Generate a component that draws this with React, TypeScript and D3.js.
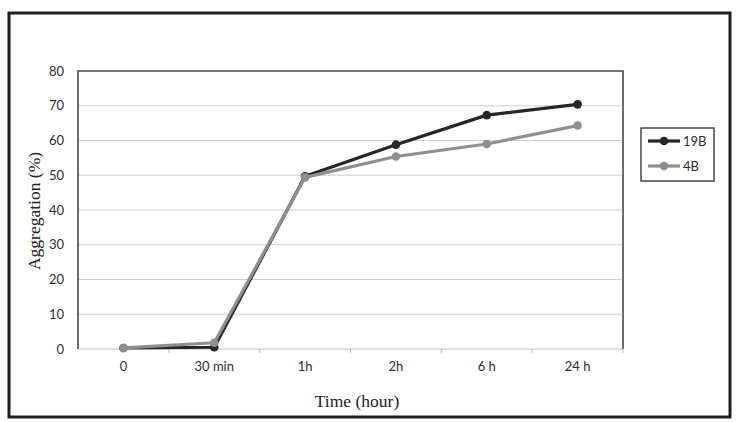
import * as d3 from 'd3';
import React from 'react';

const categories = ['0', '30 min', '1h', '2h', '6 h', '24 h'];
const series19B = [0.3, 0.5, 49.7, 58.8, 67.3, 70.4];
const series4B = [0.3, 1.8, 49.4, 55.4, 59.0, 64.3];
const yTicks = [0, 10, 20, 30, 40, 50, 60, 70, 80];

const seriesList = [
  { name: '19B', values: series19B, color: '#262626' },
  { name: '4B', values: series4B, color: '#8f8f8f' },
];

function App() {
  const W = 741,
    H = 422;
  const plot = { left: 78, right: 623, top: 71, bottom: 349 };

  const x = d3
    .scaleBand<string>()
    .domain(categories)
    .range([plot.left, plot.right]);
  const y = d3.scaleLinear().domain([0, 80]).range([plot.bottom, plot.top]);

  const line = d3
    .line<number>()
    .x((d, i) => (x(categories[i]) as number) + x.bandwidth() / 2)
    .y((d) => y(d));

  const tickFont = 'Lato, "Open Sans", sans-serif';
  const titleFont = '"Liberation Serif", "DejaVu Serif", serif';

  return (
    <div style={{ position: 'absolute', left: 0, top: 0 }}>
      <svg width={W} height={H} style={{ display: 'block', background: '#fff' }}>
        {/* outer frame */}
        <rect x={9} y={13} width={721} height={404} fill="#fff" stroke="#1e1e1e" strokeWidth={3} />

        {/* gridlines */}
        {yTicks.slice(1, -1).map((t) => (
          <line key={t} x1={plot.left} x2={plot.right} y1={y(t)} y2={y(t)} stroke="#cfcfcf" strokeWidth={1.2} />
        ))}

        {/* x axis + ticks at band edges */}
        <line x1={plot.left} x2={plot.right} y1={y(0)} y2={y(0)} stroke="#bdbdbd" strokeWidth={1.2} />
        {categories.map((c) => (
          <line
            key={'t' + c}
            x1={(x(c) as number) + x.bandwidth()}
            x2={(x(c) as number) + x.bandwidth()}
            y1={y(0)}
            y2={y(0) + 4}
            stroke="#bdbdbd"
            strokeWidth={1}
          />
        ))}

        {/* plot border: left, top, right */}
        <path
          d={`M${plot.left},${plot.bottom}V${plot.top}H${plot.right}V${plot.bottom}`}
          fill="none"
          stroke="#4a4a4a"
          strokeWidth={1.6}
        />

        {/* y tick labels */}
        {yTicks.map((t) => (
          <text key={t} x={64} y={y(t)} dy="0.35em" textAnchor="end" fontFamily={tickFont} fontSize={13} fill="#2e2e2e">
            {t}
          </text>
        ))}

        {/* x tick labels */}
        {categories.map((c) => (
          <text
            key={c}
            x={(x(c) as number) + x.bandwidth() / 2}
            y={366}
            dy="0.35em"
            textAnchor="middle"
            fontFamily={tickFont}
            fontSize={13}
            fill="#2e2e2e"
          >
            {c}
          </text>
        ))}

        {/* series: 19B first, 4B drawn on top */}
        {seriesList.map((s) => (
          <g key={s.name}>
            <path d={line(s.values) as string} fill="none" stroke={s.color} strokeWidth={3.2} strokeLinejoin="round" />
            {s.values.map((v, i) => (
              <circle
                key={i}
                cx={(x(categories[i]) as number) + x.bandwidth() / 2}
                cy={y(v)}
                r={4.3}
                fill={s.color}
              />
            ))}
          </g>
        ))}

        {/* axis titles */}
        <text
          transform={`translate(34,211) rotate(-90)`}
          textAnchor="middle"
          dy="0.35em"
          fontFamily={titleFont}
          fontSize={17.5}
          fill="#222"
        >
          Aggregation (%)
        </text>
        <text x={357} y={401} dy="0.35em" textAnchor="middle" fontFamily={titleFont} fontSize={17.5} fill="#222">
          Time (hour)
        </text>

        {/* legend */}
        <rect x={641} y={128} width={73} height={53} fill="#fff" stroke="#3a3a3a" strokeWidth={1.4} />
        {seriesList.map((s, i) => {
          const ly = 141 + i * 25;
          return (
            <g key={s.name}>
              <line x1={648} x2={680} y1={ly} y2={ly} stroke={s.color} strokeWidth={3.2} />
              <circle cx={664} cy={ly} r={4.3} fill={s.color} />
              <text x={683} y={ly} dy="0.35em" fontFamily={tickFont} fontSize={13} fill="#2e2e2e">
                {s.name}
              </text>
            </g>
          );
        })}
      </svg>
    </div>
  );
}

export default App;
